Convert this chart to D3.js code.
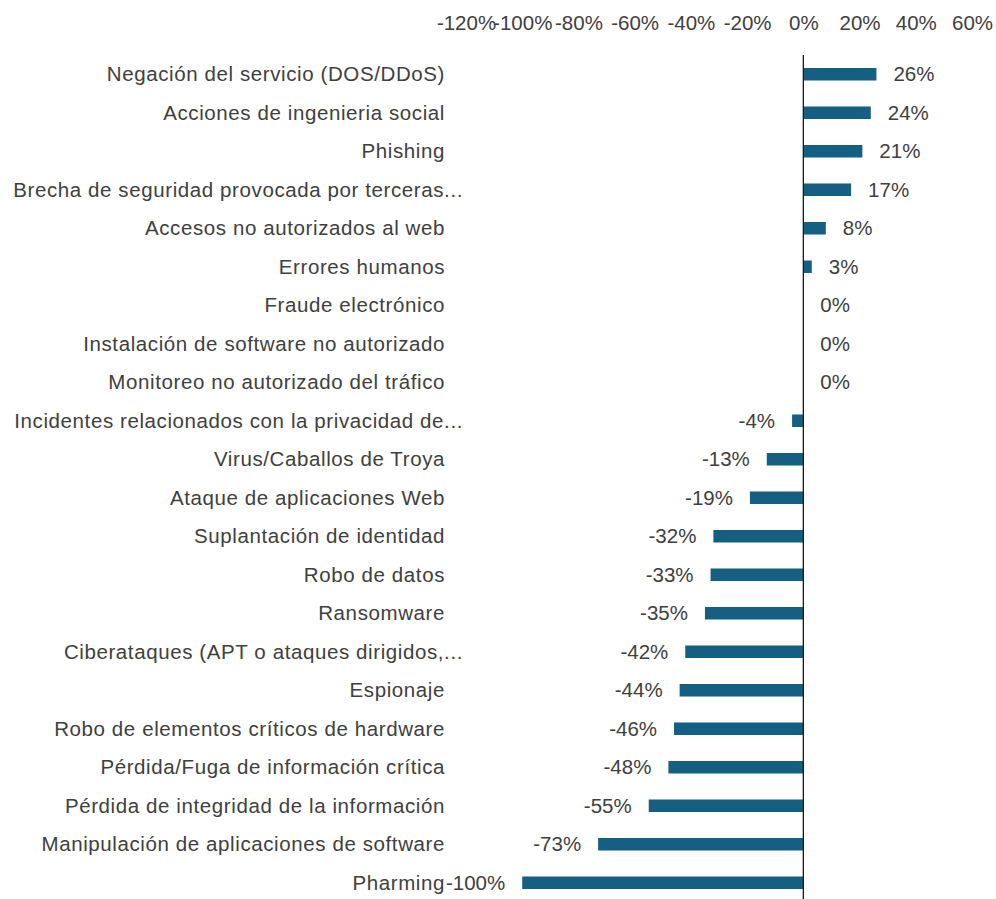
<!DOCTYPE html>
<html>
<head>
<meta charset="utf-8">
<script src="https://cdn.jsdelivr.net/npm/d3@7"></script>
<style>
  html, body { margin: 0; padding: 0; background: #fff; }
  svg text { font-family: "Liberation Sans", Arial, sans-serif; fill: #404040; }
</style>
</head>
<body>
<svg id="chart" width="996" height="899"></svg>
<script>
// Variación por tipo de incidente
const categories = [
  "Negación del servicio (DOS/DDoS)",
  "Acciones de ingenieria social",
  "Phishing",
  "Brecha de seguridad provocada por terceras...",
  "Accesos no autorizados al web",
  "Errores humanos",
  "Fraude electrónico",
  "Instalación de software no autorizado",
  "Monitoreo no autorizado del tráfico",
  "Incidentes relacionados con la privacidad de...",
  "Virus/Caballos de Troya",
  "Ataque de aplicaciones Web",
  "Suplantación de identidad",
  "Robo de datos",
  "Ransomware",
  "Ciberataques (APT o ataques dirigidos,...",
  "Espionaje",
  "Robo de elementos críticos de hardware",
  "Pérdida/Fuga de información crítica",
  "Pérdida de integridad de la información",
  "Manipulación de aplicaciones de software",
  "Pharming"
];
const values = [26, 24, 21, 17, 8, 3, 0, 0, 0, -4, -13, -19, -32, -33, -35, -42, -44, -46, -48, -55, -73, -100];
const tickValues = [-120, -100, -80, -60, -40, -20, 0, 20, 40, 60];

const svg = d3.select("#chart");
const fontSize = 20.5;
const barColor = "#156082";

const x = d3.scaleLinear().domain([-120, 60]).range([466, 972]);
const y = d3.scaleBand().domain(categories).range([55, 902]).paddingInner(0.675).paddingOuter(0.3375);

// Top value axis, labels only
const axis = d3.axisTop(x)
  .tickValues(tickValues)
  .tickSize(0)
  .tickPadding(0)
  .tickFormat(d => d + "%");
const gAxis = svg.append("g").attr("transform", "translate(0,30)").call(axis);
gAxis.select(".domain").remove();
gAxis.selectAll("text")
  .style("font-size", fontSize + "px")
  .style("font-family", "'Liberation Sans', Arial, sans-serif")
  .attr("fill", "#404040");

// Bars
svg.append("g").selectAll("rect")
  .data(values)
  .join("rect")
  .attr("x", d => x(Math.min(0, d)))
  .attr("width", d => Math.abs(x(d) - x(0)))
  .attr("y", (d, i) => y(categories[i]))
  .attr("height", y.bandwidth())
  .attr("fill", barColor);

// Zero line
svg.append("line")
  .attr("x1", x(0)).attr("x2", x(0))
  .attr("y1", y.range()[0]).attr("y2", y.range()[1])
  .attr("stroke", "#1a1a1a")
  .attr("stroke-width", 1.3);

// Category labels (truncated names hang their ellipsis past the edge)
svg.append("g").selectAll("text")
  .data(categories)
  .join("text")
  .attr("x", d => d.endsWith("...") ? 463 : 445)
  .attr("y", d => y(d) + y.bandwidth() / 2)
  .attr("dy", "0.35em")
  .attr("text-anchor", "end")
  .style("font-size", fontSize + "px")
  .style("letter-spacing", "0.6px")
  .text(d => d);

// Value labels
svg.append("g").selectAll("text")
  .data(values)
  .join("text")
  .attr("x", d => d >= 0 ? x(d) + 17 : x(d) - 17)
  .attr("y", (d, i) => y(categories[i]) + y.bandwidth() / 2)
  .attr("dy", "0.35em")
  .attr("text-anchor", d => d >= 0 ? "start" : "end")
  .style("font-size", fontSize + "px")
  .text(d => d + "%");
</script>
</body>
</html>
